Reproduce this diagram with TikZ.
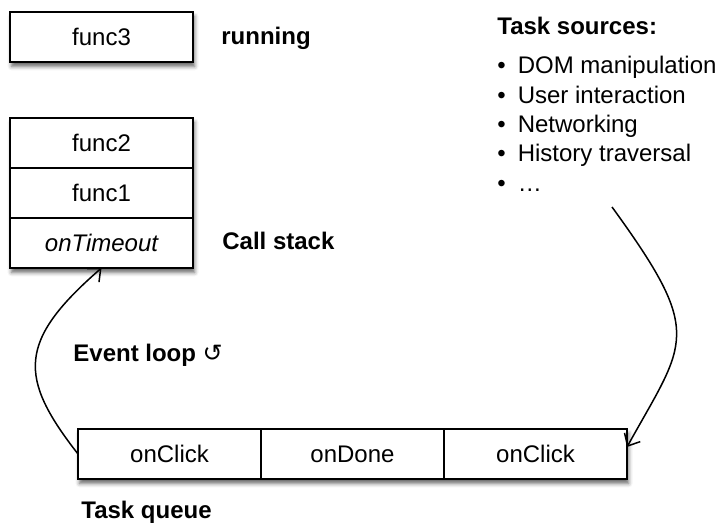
\documentclass[tikz,border=0pt]{standalone}
\usepackage{fontspec}
\setmainfont{Liberation Sans}
\newfontfamily\symfont{DejaVu Sans}
\usetikzlibrary{arrows.meta, positioning, shadows.blur, backgrounds}

\begin{document}
\begin{tikzpicture}[x=25pt, y=25pt,
  cell/.style={draw, line width=0.8pt, fill=white, outer sep=0pt, inner sep=0pt,
    minimum width=91.5pt, minimum height=25pt, font=\fontsize{12}{14}\selectfont},
  boxshadow/.style={fill=white,
    blur shadow={shadow xshift=0.8pt, shadow yshift=-2.2pt, shadow blur radius=2pt, shadow opacity=60}},
  heading/.style={anchor=base west, inner sep=0pt, font=\fontsize{12}{14}\selectfont\bfseries},
  srcitem/.style={anchor=base west, inner sep=0pt, font=\fontsize{12}{14}\selectfont},
  flow/.style={line width=0.75pt, -{Straight Barb[length=5pt, width=9pt]}}]
  \useasboundingbox (0,0) rectangle (14.54,10.48);
  % running function
  \node[cell] (f3) at (2.03,9.74) {func3};
  \node[heading] (run) at (4.42,9.58) {running};
  % call stack
  \node[cell] (f2) at (2.03,7.62) {func2};
  \node[cell, below=0pt of f2] (f1) {func1};
  \node[cell, below=0pt of f1] (ot) {\itshape onTimeout};
  \node[heading] (stack) at (4.44,5.48) {Call stack};
  % task sources
  \node[heading] (src) at (9.94,9.78) {Task sources:};
  \foreach \txt [count=\i] in {DOM manipulation, User interaction, Networking, History traversal, …}
    \node[srcitem] (src\i) at (9.94,{9.0-0.586*(\i-1)}) {\textbullet\hspace{6pt}\txt};
  % task queue
  \node[cell] (q1) at (3.39,1.40) {onClick};
  \node[cell, right=0pt of q1] (q2) {onDone};
  \node[cell, right=0pt of q2] (q3) {onClick};
  \node[heading] (queue) at (1.62,0.12) {Task queue};
  % shadows behind the boxes
  \begin{scope}[on background layer]
    \path[boxshadow] (f3.north west) rectangle (f3.south east);
    \path[boxshadow] (f2.north west) rectangle (ot.south east);
    \path[boxshadow] (q1.north west) rectangle (q3.south east);
  \end{scope}
  % event loop
  \node[heading] (loop) at (1.46,3.24) {Event loop {\symfont\mdseries ↺}};
  \draw[flow] (q1.west) .. controls +(128:1.94) and +(221:2.23) .. (ot.south);
  \coordinate (srcEnd) at (12.24,6.34);
  \draw[flow] (srcEnd) .. controls +(306:3.16) and +(61:2.44) .. ([yshift=3.5pt]q3.east);
\end{tikzpicture}
\end{document}
